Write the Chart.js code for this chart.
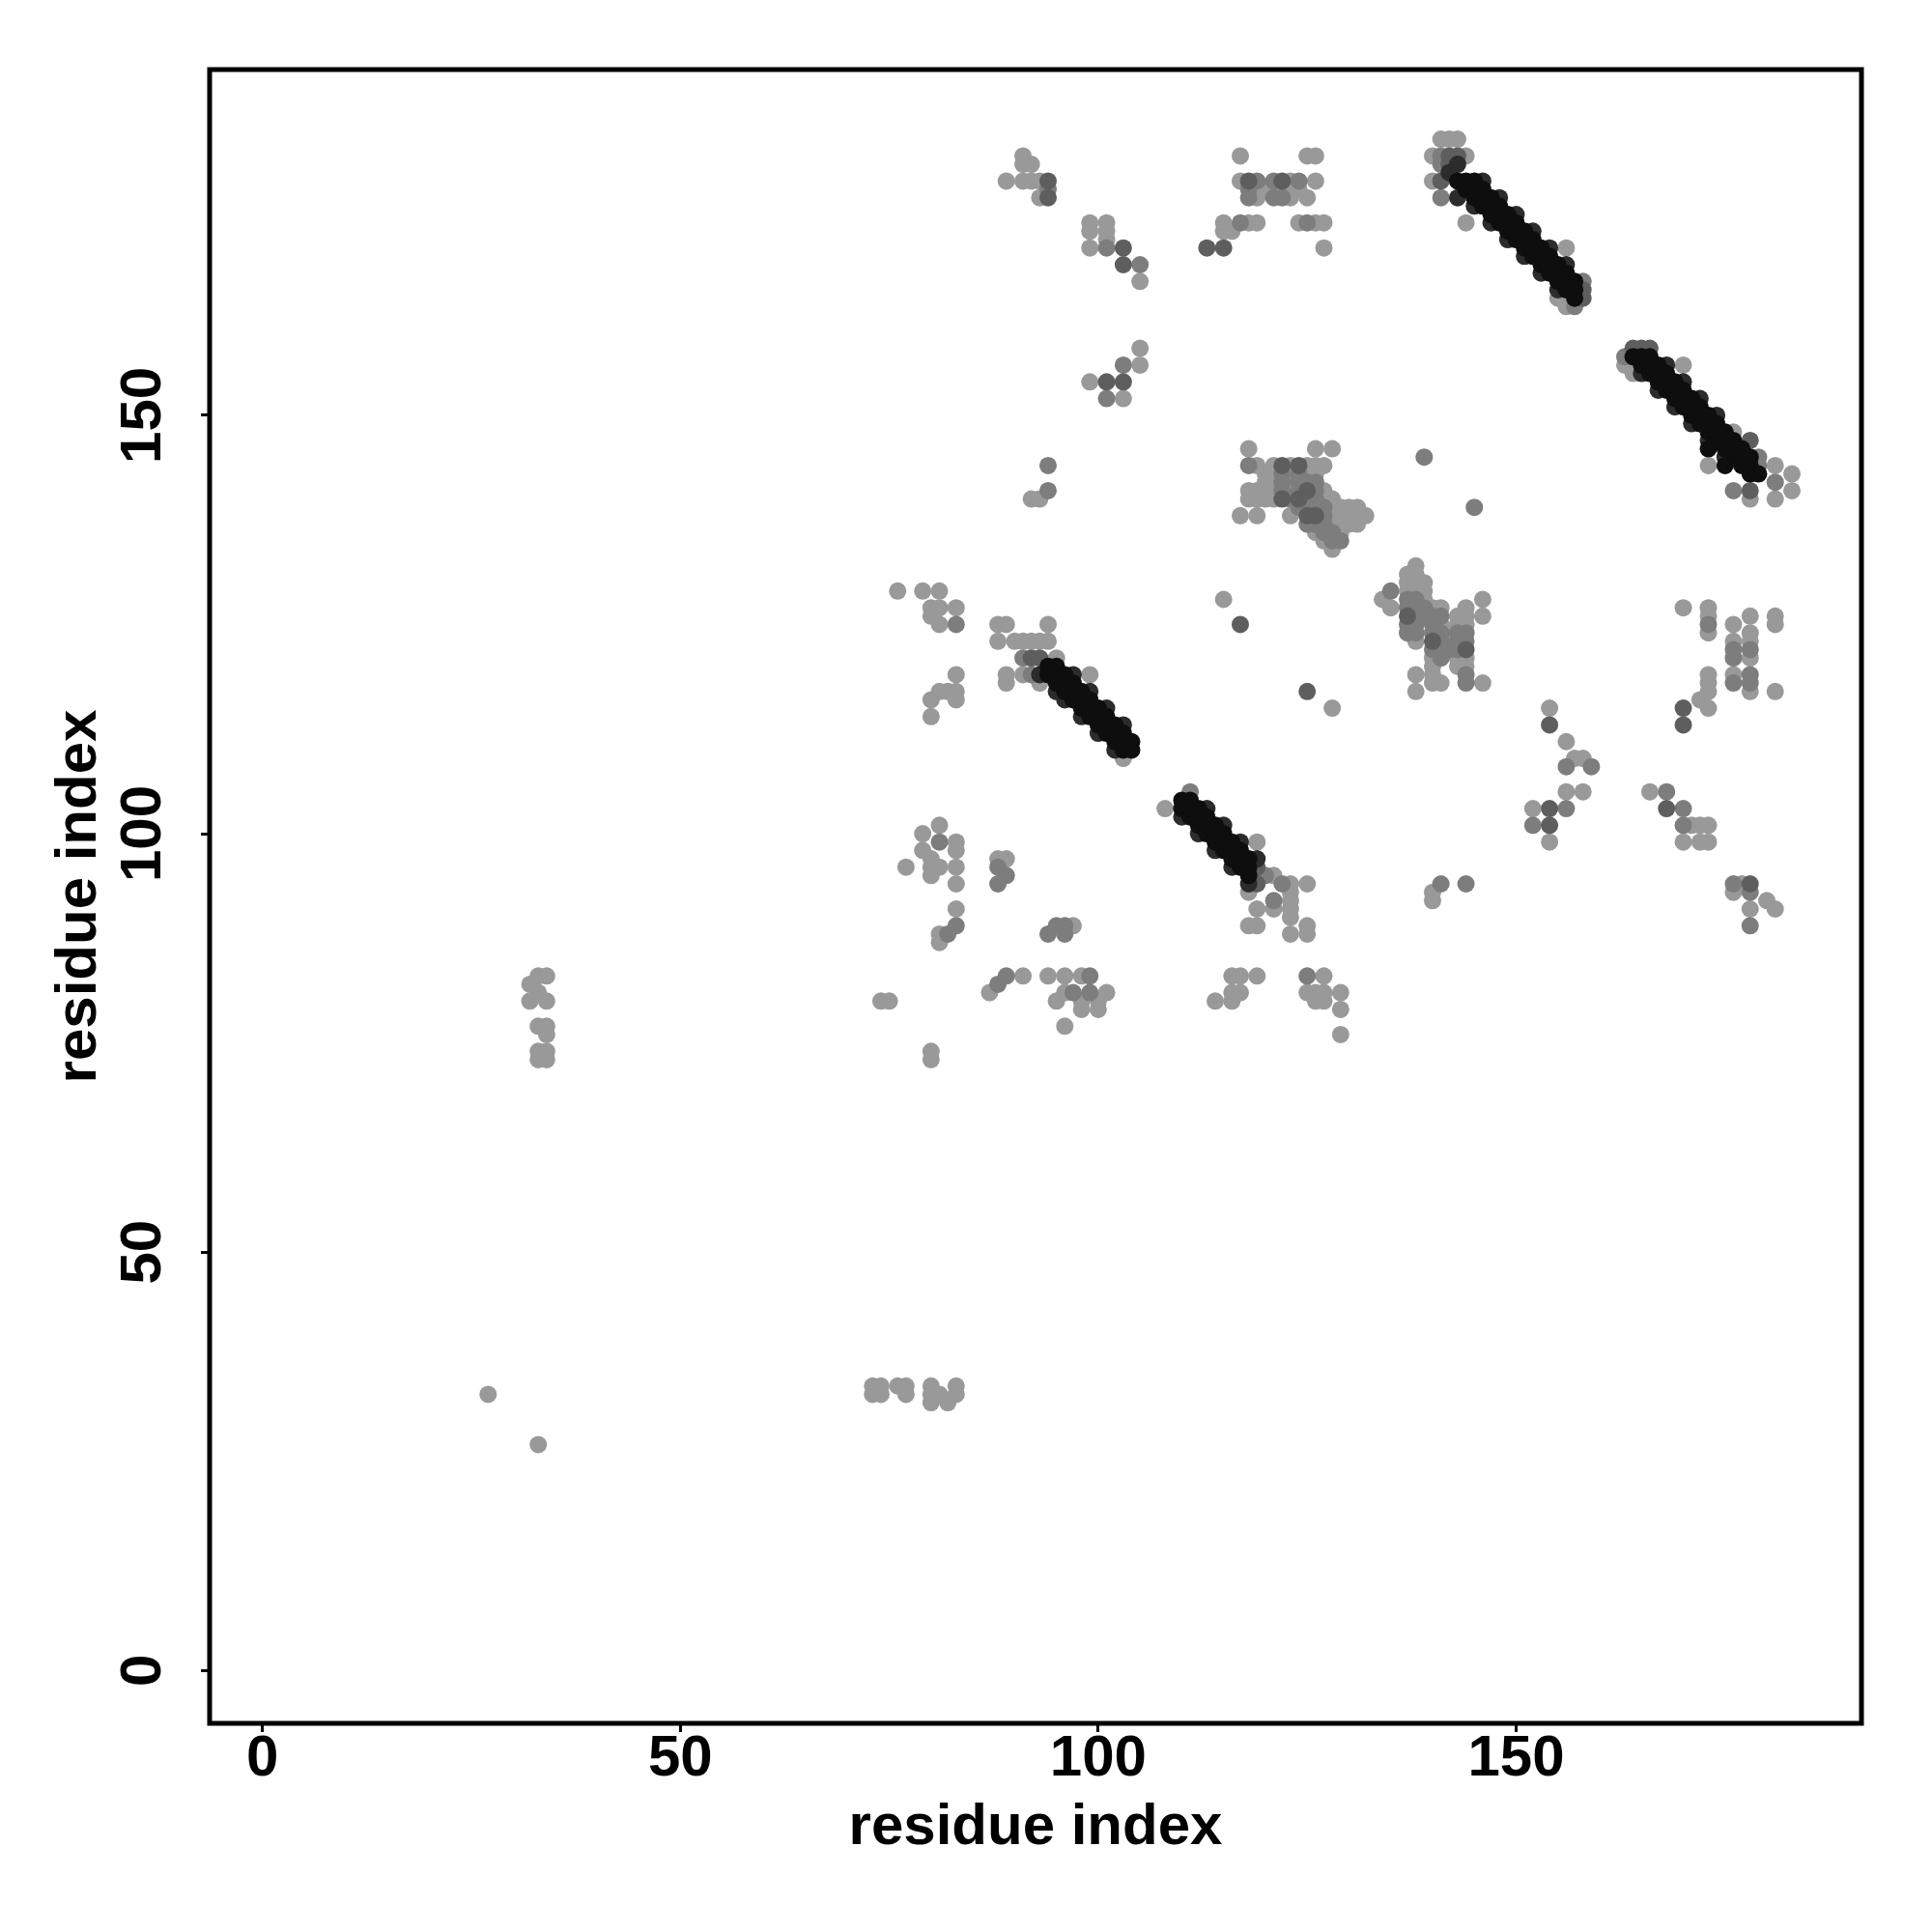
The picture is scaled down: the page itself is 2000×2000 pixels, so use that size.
<!DOCTYPE html>
<html>
<head>
<meta charset="utf-8">
<script src="https://cdn.jsdelivr.net/npm/chart.js@4.4.1/dist/chart.umd.min.js"></script>
<style>
  html, body { margin: 0; padding: 0; background: #fff; }
  #wrap { width: 2000px; height: 2000px; }
</style>
</head>
<body>
<div id="wrap"><canvas id="contactMap" width="2000" height="2000"></canvas></div>
<script>
// residue pairs [i, j], grouped by contact strength (light grey -> black)
const contactsLight = [
  [27,33],[33,27],[73,34],[74,34],[73,33],[74,33],[76,34],[77,34],[77,33],[80,34],[83,34],[80,33],[81,33],[83,33],[80,32],[82,32],
  [33,83],[34,83],[32,82],[33,81],[32,80],[34,80],[33,77],[34,77],[34,76],[33,74],[34,74],[33,73],[34,73],
  [81,101],[79,100],[83,99],[79,98],[80,97],[83,98],[77,96],[80,96],[81,96],[83,96],[80,95],[83,94],
  [88,97],[89,97],[83,91],[81,88],[81,87],[97,89],[74,80],[75,80],[80,74],[80,73],
  [87,81],[91,83],[94,83],[96,83],[98,83],[95,80],[96,81],[101,81],[98,80],[100,80],[98,79],[100,79],[96,77],
  [92,140],[93,140],[76,129],[79,129],[81,129],[80,127],[81,127],[83,127],[80,126],[81,125],[83,119],[81,117],[80,116],[82,117],[83,117],[83,116],[80,114],
  [88,125],[89,125],[94,125],[88,123],[90,123],[91,123],[92,123],[93,123],[94,123],[95,121],[89,119],[91,119],[99,119],[89,118],[93,118],[95,117],[103,109],
  [91,181],[91,180],[92,180],[89,178],[91,178],[92,178],[93,178],[93,176],
  [99,173],[101,173],[99,172],[101,172],[101,171],[99,170],[105,166],[105,158],[105,156],[99,154],[103,152],
  [117,181],[125,181],[126,181],[117,178],[123,178],[126,178],
  [119,177],[120,177],[121,177],[122,177],[123,177],[124,177],[119,176],[123,176],[125,176],
  [115,173],[118,173],[119,173],[124,173],[126,173],[127,173],[115,172],[116,172],[127,170],
  [141,183],[142,183],[143,183],[140,181],[144,181],[140,178],[144,173],
  [118,146],[126,146],[128,146],[119,144],[121,144],[123,144],[125,144],[126,144],[127,144],[126,143],
  [120,143],[121,143],[123,143],[125,143],[120,142],[120,141],[121,141],[123,141],[120,140],[127,140],[128,140],
  [118,141],[119,141],[121,142],[123,142],[127,141],[118,140],[119,140],[121,140],
  [128,139],[129,139],[130,139],[131,139],[117,138],[119,138],[123,138],[128,138],[129,138],[130,138],[131,138],[132,138],
  [128,137],[130,137],[126,136],[129,136],
  [129,137],[131,137],[127,135],[128,134],[115,128],[128,115],
  [138,132],[134,128],[135,127],[137,131],[137,129],[138,123],[138,130],[139,130],[139,129],[141,127],[140,121],[142,124],
  [138,131],[137,130],[138,129],[139,128],[140,127],[141,125],[143,125],[144,125],[140,120],[143,120],[144,120],[142,123],
  [144,127],[144,126],[144,121],[143,126],[143,121],[146,128],[146,126],[138,119],[138,117],[140,119],[141,118],[140,118],[146,118],
  [173,144],[178,140],[181,144],[181,140],[183,143],[183,141],[176,148],[170,156],
  [170,127],[173,127],[173,126],[173,124],[176,125],[176,123],[176,119],[178,126],[178,124],[178,123],[178,121],[178,117],
  [181,126],[181,125],[181,117],[173,119],[173,118],[173,117],[172,116],[173,115],
  [154,115],[156,111],[157,109],[158,109],
  [156,105],[158,105],[152,103],[154,99],[166,105],[171,101],[172,101],[173,101],[170,99],[172,99],[173,99],
  [177,94],[176,93],[180,92],[181,91],[178,91],
  [108,103],[119,99],[121,95],[123,94],[125,94],[123,93],[123,92],[123,91],[123,90],[123,88],[121,91],[125,89],[125,88],
  [119,91],[118,89],[119,89],[118,93],[140,93],[140,92],
  [116,83],[117,83],[119,83],[116,81],[117,81],[114,80],[116,80],
  [127,83],[125,81],[126,81],[127,81],[129,81],[126,80],[127,80],[129,79],[129,76],
  [156,170],[155,164],[156,163],[163,156],[164,155]
];

const contactsMedium = [
  [94,177],[101,170],[105,168],[103,156],[101,152],
  [119,178],[121,178],[124,178],[118,177],[118,176],[121,176],[122,176],[117,173],[125,173],
  [141,181],[141,180],[141,176],
  [118,144],[122,143],[124,143],[122,142],[124,142],[126,141],[123,140],[125,140],[126,140],
  [125,142],[126,142],[122,141],[124,141],[124,139],[126,137],[127,136],[128,136],
  [125,139],[126,139],[127,139],[127,138],[125,137],[127,137],[128,135],[129,135],[139,145],[145,139],
  [135,129],[137,125],[137,128],[139,126],[140,125],[141,126],[140,122],[141,122],[141,121],[144,123],[144,119],[144,118],
  [137,127],[137,124],[138,128],[138,127],[138,126],[138,125],[138,124],[139,127],[140,126],[140,124],
  [141,124],[141,123],[142,122],[143,124],[143,123],[143,122],[144,124],
  [83,125],[94,144],[94,141],[91,121],[92,119],
  [81,99],[88,96],[89,95],[88,94],[83,89],[82,88],[94,88],[95,89],[96,89],[96,88],[88,82],[89,83],[99,83],[97,81],[99,81],
  [179,145],[179,144],[181,142],[176,141],[173,125],[176,122],[176,121],[176,118],[178,122],[178,119],[178,118],[156,108],[159,108],
  [156,103],[152,101],[168,105],[170,103],[170,101],[176,94],[178,93],[178,89],
  [111,105],[120,95],[122,94],[121,92],[141,94],[144,94],[125,83],
  [163,157],[158,166],[157,163]
];

const contactsDark = [
  [94,178],[94,176],[103,170],[103,168],[101,154],[103,154],
  [118,178],[122,178],[113,170],[115,170],
  [122,144],[124,144],[125,141],[122,140],[124,140],[125,138],[126,138],
  [137,126],[140,123],[144,122],[117,125],[125,117],[92,121],[93,121],
  [154,113],[170,115],[170,113],[154,103],[154,101],[168,103],[178,94],
  [142,181],[143,181],[141,178],[142,180],
  [164,158],[165,158],[166,158],[178,141],[178,147],[158,164],[158,165],[119,96],[119,94]
];

const bandEdge = [
  [146,178],[148,176],[150,174],[152,172],[154,170],[156,168],[145,175],[147,173],[149,171],[151,169],[153,167],[155,165],
  [143,176],[142,179],[143,180],
  [165,155],[167,153],[169,151],[171,149],[173,147],[175,145],[168,156],[170,154],[172,152],[174,150],
  [93,119],[95,117],[96,116],[98,114],[100,112],[102,110],[97,119],[99,117],[101,115],[103,113],
  [110,102],[112,100],[114,98],[116,96],[118,94],[113,103],[115,101],[117,99],[119,97]
];

const bandCore = [
  [143,178],[144,177],[145,176],[146,175],[147,174],[148,173],[149,172],[150,171],[151,170],[152,169],[153,168],[154,167],[155,166],[156,165],[157,164],
  [144,178],[145,177],[146,176],[147,175],[148,174],[149,173],[150,172],[151,171],[152,170],[153,169],[154,168],[155,167],[156,166],[157,165],
  [145,178],[146,177],[147,176],[148,175],[149,174],[150,173],[151,172],[152,171],[153,170],[154,169],[155,168],[156,167],[157,166],
  [164,157],[165,156],[166,155],[167,154],[168,153],[169,152],[170,151],[171,150],[172,149],[173,148],[174,147],[175,146],[176,145],[177,144],[178,143],
  [165,157],[166,156],[167,155],[168,154],[169,153],[170,152],[171,151],[172,150],[173,149],[174,148],[175,147],[176,146],[177,145],[178,144],[179,143],
  [166,157],[167,156],[168,155],[169,154],[170,153],[171,152],[172,151],[173,150],[174,149],[175,148],[176,147],[177,146],[178,145],
  [173,146],[175,144],
  [94,119],[95,118],[96,117],[97,116],[98,115],[99,114],[100,113],[101,112],[102,111],[103,110],
  [94,120],[95,119],[96,118],[97,117],[98,116],[99,115],[100,114],[101,113],[102,112],[103,111],[104,110],
  [95,120],[96,119],[97,118],[98,117],[99,116],[100,115],[101,114],[102,113],[103,112],[104,111],
  [110,103],[111,102],[112,101],[113,100],[114,99],[115,98],[116,97],[117,96],[118,95],
  [110,104],[111,103],[112,102],[113,101],[114,100],[115,99],[116,98],[117,97],[118,96],
  [111,104],[112,103],[113,102],[114,101],[115,100],[116,99],[117,98],[118,97]
];

const axisTicks = [0, 50, 100, 150];
const axisRange = [-6.32, 191.32];

const toPoints = arr => arr.map(p => ({ x: p[0], y: p[1] }));

// solid black box around the plot region, like R's box()
const frameBox = {
  id: 'frameBox',
  afterDraw(chart) {
    const { ctx, chartArea: a } = chart;
    ctx.save();
    ctx.strokeStyle = '#000';
    ctx.lineWidth = 5;
    ctx.strokeRect(a.left, a.top, a.right - a.left, a.bottom - a.top);
    ctx.restore();
  }
};

const font = { family: '"Liberation Sans", Arial, sans-serif', size: 60, weight: 'bold' };

const makeDataset = (arr, color) => ({
  data: toPoints(arr),
  backgroundColor: color,
  borderWidth: 0,
  pointRadius: 9,
  pointHoverRadius: 9
});

new Chart(document.getElementById('contactMap'), {
  type: 'scatter',
  data: {
    datasets: [
      makeDataset(bandCore, '#0e0e0e'),
      makeDataset(bandEdge, '#2c2c2c'),
      makeDataset(contactsDark, '#5e5e5e'),
      makeDataset(contactsMedium, '#7d7d7d'),
      makeDataset(contactsLight, '#999999')
    ]
  },
  options: {
    responsive: false,
    animation: false,
    devicePixelRatio: 1,
    events: [],
    layout: { padding: { top: 72, right: 73, left: 0, bottom: 0 } },
    plugins: { legend: { display: false }, tooltip: { enabled: false } },
    scales: {
      x: {
        type: 'linear',
        min: axisRange[0],
        max: axisRange[1],
        afterBuildTicks: s => { s.ticks = axisTicks.map(v => ({ value: v })); },
        afterFit: s => { s.height = 216; },
        grid: { drawOnChartArea: false, color: '#000', lineWidth: 3, tickLength: 9 },
        border: { display: false },
        ticks: { color: '#000', font: { ...font, lineHeight: 1 }, padding: -2, maxRotation: 0 },
        title: { display: true, text: 'residue index', color: '#000', font, padding: { top: 0, bottom: 72 } }
      },
      y: {
        type: 'linear',
        min: axisRange[0],
        max: axisRange[1],
        afterBuildTicks: s => { s.ticks = axisTicks.map(v => ({ value: v })); },
        afterFit: s => { s.width = 217; },
        grid: { drawOnChartArea: false, color: '#000', lineWidth: 3, tickLength: 9 },
        border: { display: false },
        ticks: { color: '#000', font, padding: 8, minRotation: 90, maxRotation: 90, crossAlign: 'center' },
        title: { display: true, text: 'residue index', color: '#000', font, padding: { top: 46, bottom: 0 } }
      }
    }
  },
  plugins: [frameBox]
});
</script>
</body>
</html>
